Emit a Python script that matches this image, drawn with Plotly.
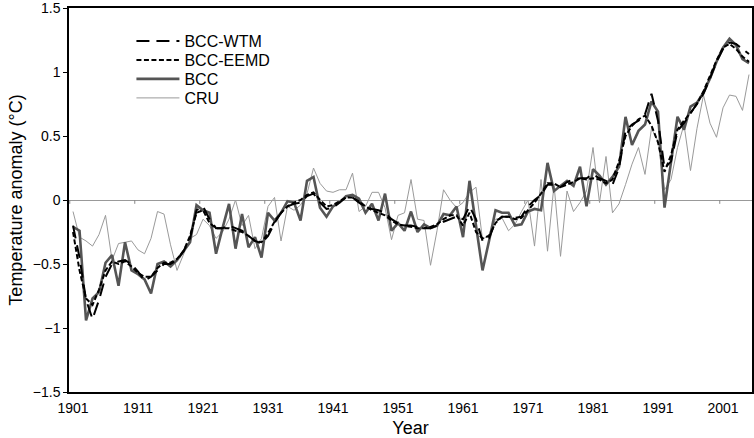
import plotly.graph_objects as go

# annual values, 1901-2005
years = list(range(1901, 2006))

bcc = [
    -0.21, -0.24, -0.94, -0.77, -0.72, -0.49, -0.43, -0.67, -0.33, -0.55,
    -0.58, -0.62, -0.73, -0.50, -0.48, -0.52, -0.47, -0.40, -0.33, -0.04,
    -0.08, -0.10, -0.42, -0.22, -0.03, -0.38, -0.11, -0.37, -0.29, -0.45,
    -0.10, -0.16, -0.10, -0.01, -0.02, -0.16, 0.15, 0.18, -0.06, -0.13,
    -0.05, -0.02, 0.03, 0.04, 0.01, -0.10, -0.03, -0.16, 0.05, -0.24,
    -0.18, -0.24, -0.09, -0.25, -0.19, -0.22, -0.20, -0.11, -0.12, -0.05,
    -0.29, 0.15, -0.20, -0.55, -0.32, -0.08, -0.10, -0.10, -0.20, -0.19,
    -0.09, -0.07, -0.08, 0.29, 0.07, 0.11, 0.15, 0.11, 0.26, -0.05,
    0.24, 0.19, 0.12, 0.18, 0.26, 0.65, 0.43, 0.54, 0.59, 0.77,
    0.69, -0.06, 0.30, 0.65, 0.55, 0.73, 0.76, 0.84, 0.95, 1.08,
    1.19, 1.26, 1.21, 1.10, 1.07,
]

cru = [
    -0.09, -0.29, -0.32, -0.36, -0.27, -0.12, -0.47, -0.34, -0.33, -0.32,
    -0.39, -0.42, -0.30, -0.09, -0.11, -0.35, -0.55, -0.42, -0.30, -0.27,
    -0.15, -0.20, -0.30, -0.25, -0.15, 0.00, -0.20, -0.12, -0.38, -0.30,
    -0.05, 0.02, -0.32, -0.05, -0.08, -0.04, 0.05, 0.25, 0.13, 0.07,
    0.06, 0.08, 0.08, 0.21, -0.09, -0.05, 0.06, 0.06, -0.06, -0.31,
    -0.12, -0.10, 0.16, -0.15, -0.16, -0.51, -0.24, 0.08, 0.00, -0.06,
    -0.02, 0.06, 0.10, -0.31, -0.27, -0.15, -0.14, -0.24, -0.19, -0.09,
    0.00, -0.36, 0.16, -0.40, 0.12, -0.44, 0.07, -0.09, -0.02, 0.07,
    0.41, -0.02, 0.34, -0.10, -0.03, 0.12, 0.28, 0.41, 0.20, 0.56,
    0.46, 0.08, 0.16, 0.41, 0.59, 0.23, 0.56, 0.82, 0.60, 0.49,
    0.72, 0.82, 0.81, 0.70, 0.98,
]

wtm = [
    -0.20, -0.45, -0.78, -0.93, -0.78, -0.60, -0.50, -0.48, -0.47, -0.50,
    -0.56, -0.63, -0.60, -0.55, -0.50, -0.50, -0.47, -0.40, -0.30, -0.08,
    -0.05, -0.15, -0.22, -0.22, -0.20, -0.22, -0.24, -0.28, -0.32, -0.34,
    -0.28, -0.18, -0.10, -0.05, -0.03, -0.02, 0.03, 0.05, -0.02, -0.07,
    -0.06, -0.02, 0.02, 0.02, -0.02, -0.05, -0.07, -0.08, -0.10, -0.15,
    -0.18, -0.20, -0.20, -0.21, -0.22, -0.22, -0.20, -0.17, -0.15, -0.13,
    -0.15, -0.05, -0.15, -0.32, -0.30, -0.17, -0.13, -0.13, -0.14, -0.13,
    -0.05, 0.00, 0.04, 0.12, 0.12, 0.10, 0.14, 0.16, 0.17, 0.17,
    0.20, 0.17, 0.15, 0.12, 0.25, 0.54, 0.59, 0.62, 0.67, 0.83,
    0.62, 0.25, 0.30, 0.54, 0.60, 0.68, 0.75, 0.83, 0.95, 1.08,
    1.18, 1.23, 1.22, 1.18, 1.14,
]

eemd = [
    -0.25, -0.55, -0.77, -0.82, -0.70, -0.55, -0.48, -0.50, -0.48, -0.52,
    -0.57, -0.60, -0.60, -0.53, -0.49, -0.49, -0.46, -0.40, -0.28, -0.10,
    -0.08, -0.18, -0.22, -0.22, -0.22, -0.24, -0.25, -0.28, -0.32, -0.33,
    -0.26, -0.17, -0.10, -0.05, -0.02, 0.00, 0.04, 0.06, 0.00, -0.05,
    -0.04, -0.01, 0.02, 0.02, -0.01, -0.05, -0.08, -0.10, -0.12, -0.16,
    -0.19, -0.20, -0.21, -0.22, -0.22, -0.21, -0.19, -0.15, -0.12, -0.12,
    -0.20, -0.10, -0.25, -0.30, -0.28, -0.18, -0.13, -0.13, -0.15, -0.14,
    -0.08, -0.02, 0.05, 0.13, 0.13, 0.10, 0.12, 0.14, 0.17, 0.16,
    0.17, 0.16, 0.13, 0.16, 0.30, 0.50, 0.58, 0.63, 0.66, 0.58,
    0.45, 0.22, 0.35, 0.55, 0.62, 0.68, 0.75, 0.85, 0.97, 1.09,
    1.19, 1.22, 1.18, 1.12, 1.08,
]

tick_years = [1901, 1911, 1921, 1931, 1941, 1951, 1961, 1971, 1981, 1991, 2001]

font = "Liberation Sans, Arial, Helvetica, sans-serif"

# drawn bottom-up; each series gets its own legend box so the rows sit tight
series = [
    ("CRU", cru, dict(color="#9a9a9a", width=1), "legend4"),
    ("BCC", bcc, dict(color="#555555", width=2.6), "legend3"),
    ("BCC-EEMD", eemd, dict(color="black", width=2, dash="5px,2.5px"), "legend2"),
    ("BCC-WTM", wtm, dict(color="black", width=2, dash="13px,7px"), "legend"),
]

fig = go.Figure()
for name, vals, line, lg in series:
    fig.add_trace(go.Scatter(x=years, y=vals, mode="lines", name=name,
                             line=line, legend=lg))

# small marks hanging from the zero line
shapes = [
    dict(type="line", xref="x", yref="y", x0=t - 0.5, x1=t - 0.5, y0=0, y1=-0.03,
         line=dict(color="#888888", width=1))
    for t in tick_years
]

plot_top, plot_h = 8, 384
def legend_at(ypx):
    return dict(
        x=0.0914, y=1 - (ypx - plot_top) / plot_h, xanchor="left", yanchor="middle",
        bgcolor="rgba(0,0,0,0)", font=dict(size=16), itemwidth=43,
    )

fig.update_layout(
    width=754, height=438,
    margin=dict(l=69, r=2, t=plot_top, b=46),
    plot_bgcolor="white", paper_bgcolor="white",
    font=dict(family=font, size=15, color="black"),
    showlegend=True,
    legend=legend_at(41),
    legend2=legend_at(60),
    legend3=legend_at(79),
    legend4=legend_at(98),
    shapes=shapes,
)
fig.update_xaxes(
    range=[1900.38, 2005.46], automargin=False,
    tickvals=tick_years, ticktext=[str(t) for t in tick_years],
    tickfont=dict(size=14),
    ticks="", showgrid=False, zeroline=False, ticklabelstandoff=2,
    showline=True, mirror=True, linecolor="black", linewidth=1.5,
    title=dict(text="Year", standoff=10),
)
fig.update_yaxes(
    range=[-1.5, 1.5], dtick=0.5, tick0=0, automargin=False,
    tickfont=dict(size=14),
    ticks="outside", ticklen=4, tickcolor="black", ticklabeloverflow="allow",
    showgrid=False, zeroline=True, zerolinecolor="#999999", zerolinewidth=1,
    showline=True, mirror=True, linecolor="black", linewidth=1.5,
    title=dict(text="Temperature anomaly (°C)", standoff=6),
)

# page body has a default 8px margin; drop it so the figure fills the window
fig.write_html("out.html", config={"displayModeBar": False},
               post_script="document.body.style.margin='0';")
